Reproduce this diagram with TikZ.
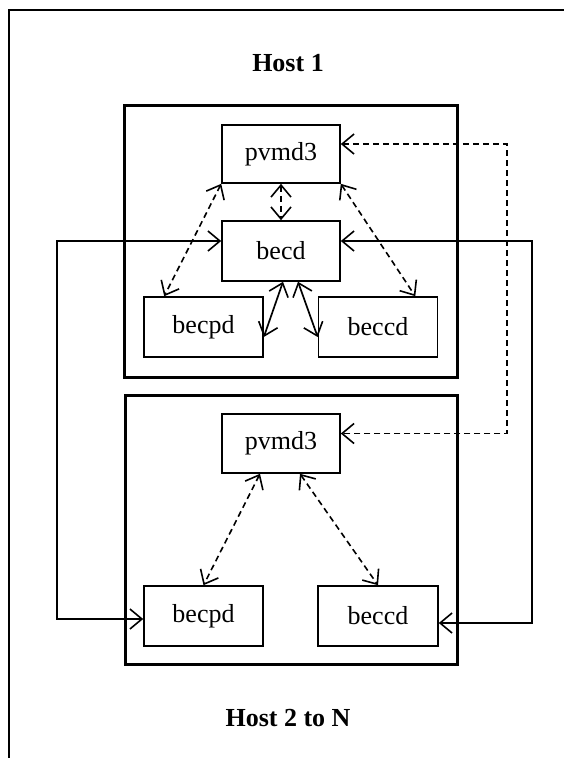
\documentclass[tikz,border=0pt]{standalone}
\usepackage{fontspec}
\setmainfont{Liberation Serif}
\usetikzlibrary{arrows.meta}
\tikzset{
  box/.style={draw, line width=1.6pt, inner sep=0pt, font=\fontsize{26}{29}\selectfont},
  hostbox/.style={draw, line width=3pt, inner sep=0pt},
  title/.style={font=\fontsize{26}{30}\selectfont\bfseries},
  tip/.tip={Straight Barb[length=12pt, width=20pt, line width=1.6pt]},
  sol/.style={line width=1.7pt, tip-tip},
  dsh/.style={line width=1.6pt, dash pattern=on 6pt off 4pt, tip-tip},
}
\begin{document}
\begin{tikzpicture}[x=1pt,y=-1pt]
\useasboundingbox (0,0) rectangle (564,758);
% outer frame (top and left edges)
\coordinate (fl) at (9,758);
\coordinate (fc) at (9,10);
\coordinate (fr) at (564,10);
\draw[line width=2pt] (fl) -- (fc) -- (fr);
% titles
\node[title] (t1) at (288,63) {Host 1};
\node[title] (t2) at (288,718) {Host 2 to N};
% host boxes
\node[hostbox, minimum width=333pt, minimum height=272pt] (h1) at (291,241) {};
\node[hostbox, minimum width=332pt, minimum height=269pt] (h2) at (291,529.5) {};
% host 1
\node[box, minimum width=118pt, minimum height=58pt] (pa) at (281,154) {pvmd3};
\node[box, minimum width=118pt, minimum height=60pt] (becd) at (281,251) {becd};
\node[box, minimum width=119pt, minimum height=60pt] (bpa) at (203.5,327) {becpd};
\node[box, minimum width=119pt, minimum height=60pt] (bca) at (378,327) {beccd};
% host 2
\node[box, minimum width=118pt, minimum height=59pt] (pb) at (281,443.5) {pvmd3};
\node[box, minimum width=119pt, minimum height=60pt] (bpb) at (203.5,616) {becpd};
\node[box, minimum width=120pt, minimum height=60pt] (bcb) at (378,616) {beccd};
% host 1 connectors
\draw[dsh] (pa.south west) -- ([xshift=21pt]bpa.north west);
\draw[dsh] (pa.south east) -- ([xshift=-23pt]bca.north east);
\draw[dsh] (pa.south) -- (becd.north);
\draw[sol] ([xshift=2pt]becd.south) -- ([yshift=-10pt]bpa.east);
\draw[sol] ([xshift=17pt]becd.south) -- ([yshift=-10pt]bca.west);
% host 2 connectors
\draw[dsh] ([xshift=-21pt]pb.south) -- (bpb.north);
\draw[dsh] ([xshift=19pt]pb.south) -- (bcb.north);
% inter-host connectors
\draw[sol] ([yshift=10pt]becd.west) -- ++(-164,0) |- ([yshift=-3pt]bpb.west);
\draw[sol] ([yshift=10pt]becd.east) -- ++(191,0) |- ([yshift=-7pt]bcb.east);
\draw[dsh] ([yshift=10pt]pa.east) -- ++(166,0) |- ([yshift=10pt]pb.east);
\end{tikzpicture}
\end{document}
